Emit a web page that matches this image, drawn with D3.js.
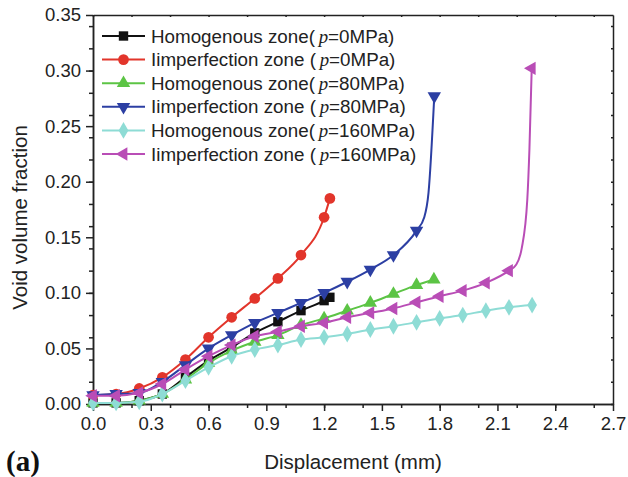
<!DOCTYPE html>
<html lang="en">
<head>
    <meta charset="UTF-8">
    <title>Void volume fraction vs displacement</title>
    <script src="https://cdnjs.cloudflare.com/ajax/libs/d3/7.8.5/d3.min.js"></script>
    <style>
        body { margin: 0; background: #fff; }
        svg { display: block; font-family: "Liberation Sans", Arial, Helvetica, sans-serif; }
        .axis path, .axis line { stroke: #222; stroke-width: 1.5; }
        .axis text { font-size: 18.5px; fill: #222; }
    </style>
</head>
<body>
<div id="chart"></div>
<script>
    // Values
    const xTickLabels = [0.0, 0.3, 0.6, 0.9, 1.2, 1.5, 1.8, 2.1, 2.4, 2.7];
    const yTickLabels = [0.00, 0.05, 0.10, 0.15, 0.20, 0.25, 0.30, 0.35];

    const homo0X = [0, 0.12, 0.24, 0.36, 0.48, 0.6, 0.72, 0.84, 0.96, 1.08, 1.2, 1.23];
    const homo0Y = [0.001, 0.001, 0.003, 0.009, 0.024, 0.039, 0.051, 0.064, 0.074, 0.084, 0.093, 0.096];

    const imp0X = [0, 0.12, 0.24, 0.36, 0.48, 0.6, 0.72, 0.84, 0.96, 1.08, 1.2, 1.23];
    const imp0Y = [0.008, 0.009, 0.014, 0.024, 0.040, 0.060, 0.078, 0.095, 0.113, 0.134, 0.168, 0.185];

    const homo80X = [0, 0.12, 0.24, 0.36, 0.48, 0.6, 0.72, 0.84, 0.96, 1.08, 1.2, 1.32, 1.44, 1.56, 1.68, 1.77];
    const homo80Y = [0.001, 0.001, 0.003, 0.009, 0.022, 0.037, 0.048, 0.056, 0.062, 0.071, 0.077, 0.084, 0.091, 0.099, 0.107, 0.112];

    const imp80X = [0, 0.12, 0.24, 0.36, 0.48, 0.6, 0.72, 0.84, 0.96, 1.08, 1.2, 1.32, 1.44, 1.56, 1.68, 1.772];
    const imp80Y = [0.008, 0.009, 0.010, 0.020, 0.035, 0.050, 0.062, 0.073, 0.082, 0.091, 0.100, 0.110, 0.121, 0.134, 0.156, 0.277];
    // unmarked points where the curve turns up
    const imp80BendX = [1.72, 1.742];
    const imp80BendY = [0.168, 0.190];

    const homo160X = [0, 0.12, 0.24, 0.36, 0.48, 0.6, 0.72, 0.84, 0.96, 1.08, 1.2, 1.32, 1.44, 1.56, 1.68, 1.8, 1.92, 2.04, 2.16, 2.28];
    const homo160Y = [0.001, 0.001, 0.002, 0.009, 0.021, 0.033, 0.043, 0.049, 0.053, 0.058, 0.060, 0.063, 0.067, 0.070, 0.0735, 0.077, 0.080, 0.084, 0.087, 0.089];

    const imp160X = [0, 0.12, 0.24, 0.36, 0.48, 0.6, 0.72, 0.84, 0.96, 1.08, 1.2, 1.32, 1.44, 1.56, 1.68, 1.8, 1.92, 2.04, 2.16, 2.278];
    const imp160Y = [0.0075, 0.0075, 0.010, 0.018, 0.031, 0.043, 0.053, 0.061, 0.065, 0.070, 0.073, 0.078, 0.082, 0.086, 0.0915, 0.097, 0.102, 0.109, 0.120, 0.302];
    const imp160BendX = [2.196, 2.226, 2.255, 2.266];
    const imp160BendY = [0.125, 0.140, 0.184, 0.229];

    const seriesNames = ["Homogenous zone(", "Iimperfection zone (", "Homogenous zone(", "Iimperfection zone (", "Homogenous zone(", "Iimperfection zone ("];
    const pressures = ["0MPa)", "0MPa)", "80MPa)", "80MPa)", "160MPa)", "160MPa)"];

    const zip = (xs, ys) => xs.map((x, i) => [x, ys[i]]);

    const series = [
        { marks: zip(homo0X, homo0Y), bend: [], color: "#111111", symbol: d3.symbolSquare, size: 88, rot: 0 },
        { marks: zip(imp0X, imp0Y), bend: [], color: "#e2352b", symbol: d3.symbolCircle, size: 90, rot: 0 },
        { marks: zip(homo80X, homo80Y), bend: [], color: "#5cc445", symbol: d3.symbolTriangle, size: 78, rot: 0 },
        { marks: zip(imp80X, imp80Y), bend: zip(imp80BendX, imp80BendY), color: "#2c3fa3", symbol: d3.symbolTriangle, size: 78, rot: 180 },
        { marks: zip(homo160X, homo160Y), bend: [], color: "#8edcd5", symbol: d3.symbolDiamond, size: 82, rot: 0 },
        { marks: zip(imp160X, imp160Y), bend: zip(imp160BendX, imp160BendY), color: "#b94db6", symbol: d3.symbolTriangle, size: 78, rot: -90 }
    ];

    const W = 628, H = 477;
    const plot = { left: 93, right: 613, top: 15, bottom: 404 };

    const svg = d3.select("#chart").append("svg")
        .attr("width", W)
        .attr("height", H);

    const x = d3.scaleLinear().domain([0, 2.7]).range([plot.left, plot.right]);
    const y = d3.scaleLinear().domain([0, 0.35]).range([plot.bottom, plot.top]);

    // minor ticks (no labels)
    svg.append("g").attr("class", "axis")
        .attr("transform", `translate(0,${plot.bottom})`)
        .call(d3.axisBottom(x).ticks(18).tickSize(4).tickSizeOuter(0).tickFormat(""));
    svg.append("g").attr("class", "axis")
        .attr("transform", `translate(${plot.left},0)`)
        .call(d3.axisLeft(y).ticks(14).tickSize(4).tickSizeOuter(0).tickFormat(""));

    // major ticks
    svg.append("g").attr("class", "axis")
        .attr("transform", `translate(0,${plot.bottom})`)
        .call(d3.axisBottom(x).tickValues(xTickLabels).tickSize(7).tickPadding(6).tickSizeOuter(0).tickFormat(d3.format(".1f")));
    svg.append("g").attr("class", "axis")
        .attr("transform", `translate(${plot.left},0)`)
        .call(d3.axisLeft(y).tickValues(yTickLabels).tickSize(7).tickPadding(5).tickSizeOuter(0).tickFormat(d3.format(".2f")));

    // frame: top and right with tiny inward ticks
    svg.append("g").attr("class", "axis")
        .attr("transform", `translate(0,${plot.top})`)
        .call(d3.axisBottom(x).ticks(18).tickSize(2).tickSizeOuter(0).tickFormat(""));
    svg.append("g").attr("class", "axis")
        .attr("transform", `translate(${plot.right},0)`)
        .call(d3.axisLeft(y).ticks(14).tickSize(2).tickSizeOuter(0).tickFormat(""));

    // axis titles
    svg.append("text")
        .attr("x", (plot.left + plot.right) / 2)
        .attr("y", 469)
        .attr("text-anchor", "middle")
        .style("font-size", "20.5px")
        .attr("fill", "#222")
        .text("Displacement (mm)");

    svg.append("text")
        .attr("transform", `translate(27,${(plot.top + plot.bottom) / 2 + 8}) rotate(-90)`)
        .attr("text-anchor", "middle")
        .style("font-size", "20.5px")
        .attr("fill", "#222")
        .text("Void volume fraction");

    svg.append("text")
        .attr("x", 6)
        .attr("y", 471)
        .style("font-family", "'Liberation Serif', 'Times New Roman', serif")
        .style("font-weight", "bold")
        .style("font-size", "29px")
        .attr("fill", "#111")
        .text("(a)");

    const line = d3.line()
        .x(d => x(d[0]))
        .y(d => y(d[1]))
        .curve(d3.curveMonotoneX);

    series.forEach(s => {
        const pts = s.marks.concat(s.bend).sort((a, b) => a[0] - b[0]);
        const g = svg.append("g");
        g.append("path")
            .datum(pts)
            .attr("fill", "none")
            .attr("stroke", s.color)
            .attr("stroke-width", 2)
            .attr("d", line);
        g.selectAll("path.mark")
            .data(s.marks)
            .join("path")
            .attr("class", "mark")
            .attr("transform", d => `translate(${x(d[0])},${y(d[1])}) rotate(${s.rot})`)
            .attr("fill", s.color)
            .attr("d", d3.symbol(s.symbol, s.size));
    });

    // legend
    const legend = svg.append("g").attr("transform", "translate(102,36)");
    series.forEach((s, i) => {
        const row = legend.append("g").attr("transform", `translate(0,${i * 23.6})`);
        row.append("line")
            .attr("x1", 0).attr("x2", 43)
            .attr("stroke", s.color).attr("stroke-width", 2);
        row.append("path")
            .attr("transform", `translate(21.5,0) rotate(${s.rot})`)
            .attr("fill", s.color)
            .attr("d", d3.symbol(s.symbol, s.size));
        const t = row.append("text")
            .attr("x", 49)
            .attr("y", 6.5)
            .style("font-size", "18.8px")
            .attr("fill", "#222");
        t.append("tspan").text(seriesNames[i]);
        t.append("tspan")
            .style("font-family", "'Liberation Serif', 'Times New Roman', serif")
            .style("font-style", "italic")
            .text("\u2009p");
        t.append("tspan").text("=" + pressures[i]);
    });
</script>
</body>
</html>
